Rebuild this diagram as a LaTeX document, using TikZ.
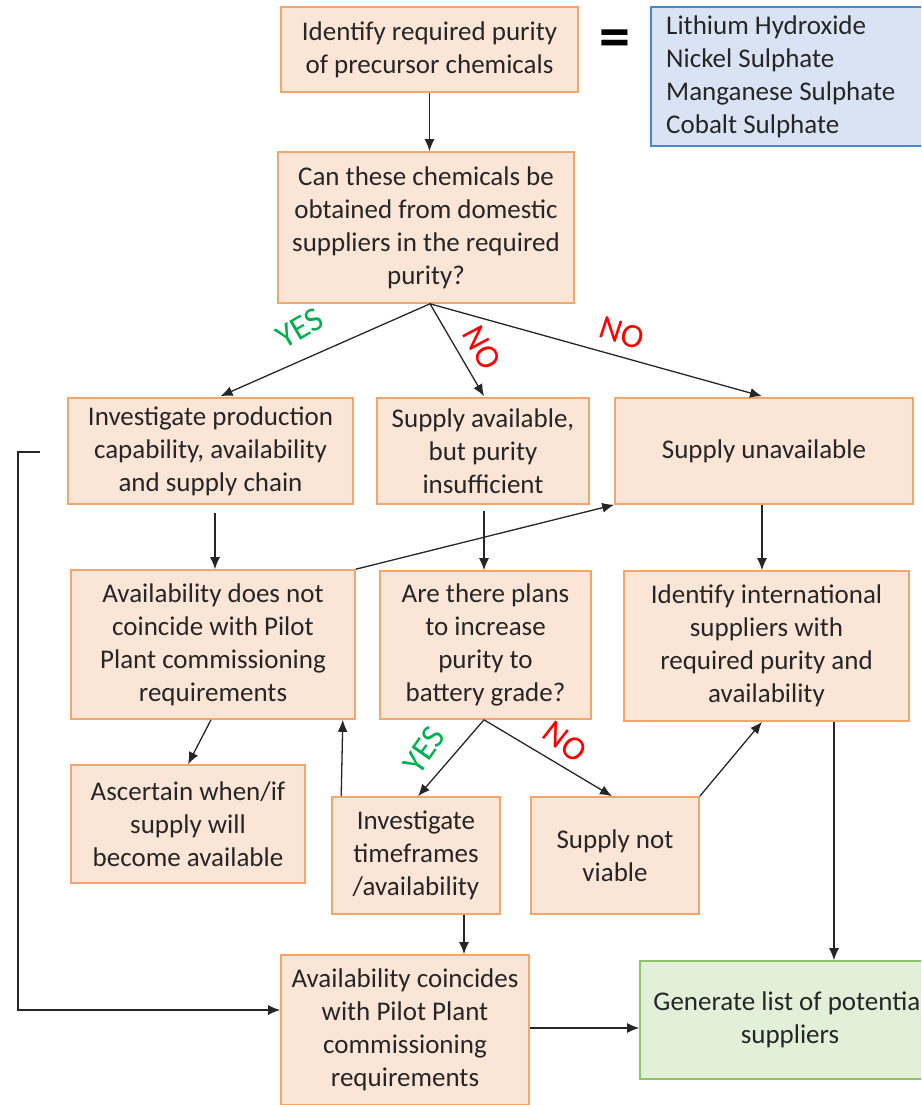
\documentclass[tikz,border=0pt]{standalone}
\usepackage{fontspec}
\setmainfont{Carlito}
\usetikzlibrary{arrows.meta,calc}
\definecolor{peach}{HTML}{FBE5D6}
\definecolor{peachline}{HTML}{F4A56C}
\definecolor{bluefill}{HTML}{DAE3F3}
\definecolor{blueline}{HTML}{4A86D0}
\definecolor{greenfill}{HTML}{E2F0D9}
\definecolor{greenline}{HTML}{8CC46A}
\definecolor{ink}{HTML}{262626}
\definecolor{yesgreen}{HTML}{00B050}
\definecolor{nored}{HTML}{FF0000}
\begin{document}
\begin{tikzpicture}[x=1pt,y=-1pt,
  font=\fontsize{27}{33}\selectfont,
  box/.style={draw=peachline,fill=peach,line width=1.6pt,align=center,
    inner sep=0pt,text=ink},
  listbox/.style={draw=blueline,fill=bluefill,line width=1.6pt,align=left,
    inner sep=0pt,text=ink},
  endbox/.style={draw=greenline,fill=greenfill,line width=1.6pt,align=center,
    inner sep=0pt,text=ink},
  arr/.style={draw=ink,line width=1.3pt,-{Latex[length=12pt,width=10pt]}},
  yes/.style={text=yesgreen,font=\fontsize{34}{34}\selectfont},
  no/.style={text=nored,font=\fontsize{34}{34}\selectfont}]
\clip (0,0) rectangle (921,1105);
\fill[white] (0,0) rectangle (921,1105);

% top row
\node[box,minimum width=297,minimum height=85] (n1) at (429.5,49.5)
  {Identify required purity\\of precursor chemicals};
\node[text=black,font=\fontsize{62}{62}\selectfont\bfseries] (eq) at (615,44) {=};
\node[listbox,minimum width=290,minimum height=139] (chem) at (796,76.5) {};
\node[anchor=west,align=left,text=ink,inner sep=0pt] (chemtxt) at (666,77)
  {Lithium Hydroxide\\Nickel Sulphate\\Manganese Sulphate\\Cobalt Sulphate};

\node[box,minimum width=296,minimum height=151] (n2) at (426,227.5)
  {Can these chemicals be\\obtained from domestic\\suppliers in the required\\purity?};

% second row
\node[box,minimum width=285,minimum height=106] (n5) at (210.5,451)
  {Investigate production\\capability, availability\\and supply chain};
\node[box,minimum width=212,minimum height=106] (n6) at (483,451)
  {Supply available,\\but purity\\insufficient};
\node[box,minimum width=298,minimum height=106] (n7) at (764,451)
  {Supply unavailable};

% third row
\node[box,minimum width=284,minimum height=149] (n8) at (213,644.5)
  {Availability does not\\coincide with Pilot\\Plant commissioning\\requirements};
\node[box,minimum width=211,minimum height=148] (n9) at (485.5,645)
  {Are there plans\\to increase\\purity to\\battery grade?};
\node[box,minimum width=285,minimum height=150] (n10) at (766.5,646)
  {Identify international\\suppliers with\\required purity and\\availability};

% fourth row
\node[box,minimum width=234,minimum height=118] (n11) at (188,824)
  {Ascertain when/if\\supply will\\become available};
\node[box,minimum width=168,minimum height=117] (n12) at (416,855.5)
  {Investigate\\timeframes\\/availability};
\node[box,minimum width=168,minimum height=117] (n13) at (615,855.5)
  {Supply not\\viable};

% bottom row
\node[box,minimum width=248,minimum height=150] (n14) at (405,1030)
  {Availability coincides\\with Pilot Plant\\commissioning\\requirements};
\node[endbox,minimum width=300,minimum height=118] (n15) at (790,1020)
  {Generate list of potential\\suppliers};

% connectors
\draw[arr] (n1.south) -- (n1.south |- n2.north);
\draw[arr] ($(n2.south)+(4,0)$) -- ($(n5.north)+(10,-1)$);
\draw[arr] ($(n2.south)+(4,0)$) -- ($(n6.north)+(1,-1)$);
\draw[arr] ($(n2.south)+(4,0)$) -- ($(n7.north)+(-2,-1)$);
\node[yes,rotate=30] (lyes1) at (300,328) {YES};
\node[no,rotate=-62] (lno1) at (482,348) {NO};
\node[no,rotate=-18] (lno2) at (622,333) {NO};

\draw[arr] ($(n5.south)+(4.5,8)$) -- ($(n8.north)+(2,0)$);
\draw[arr] ($(n6.south)+(1,6)$) -- ($(n9.north)+(-1.5,0)$);
\draw[arr] ($(n7.south)+(-2,0)$) -- ($(n10.north)+(-4.5,0)$);
\draw[arr] (n8.north east) -- (n7.south west);

\draw[arr] ($(n8.south)+(-2,0)$) -- (n11.north);
\draw[arr] ($(n12.north west)+(10,0)$) -- ($(n8.south east)+(-13,0)$);
\draw[arr] ($(n9.south)+(-1.5,0)$) -- ($(n12.north)+(2,0)$);
\draw[arr] ($(n9.south)+(-1.5,0)$) -- ($(n13.north)+(-3,0)$);
\node[yes,rotate=55] (lyes2) at (424,750) {YES};
\node[no,rotate=-38] (lno3) at (565,742) {NO};
\draw[arr] (n13.north east) -- ($(n10.south)+(-4.5,0)$);

\coordinate (down) at (834,0);
\draw[arr] (n10.south -| down) -- (n15.north -| down);
\draw[arr] ($(n12.south)+(48,0)$) -- ($(n14.north)+(59,0)$);

\coordinate (loopstart) at (40,452);
\coordinate (loopin) at (0,1010);
\draw[arr] (loopstart) -- ++(-22,0) |- (n14.west |- loopin);
\coordinate (across) at (0,1028);
\draw[arr] (n14.east |- across) -- (n15.west |- across);
\end{tikzpicture}
\end{document}
